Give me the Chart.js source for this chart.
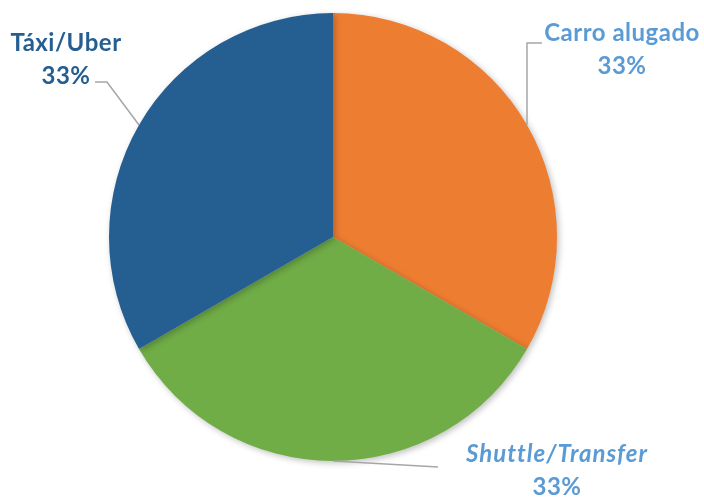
<!DOCTYPE html>
<html>
<head>
<meta charset="utf-8">
<script src="https://cdn.jsdelivr.net/npm/chart.js@4.4.1/dist/chart.umd.min.js"></script>
<style>
  html, body { margin: 0; padding: 0; background: #fff; }
  #wrap { width: 704px; height: 497px; }
</style>
</head>
<body>
<div id="wrap"><canvas id="pie"></canvas></div>
<script>
const categories = ['Carro alugado', 'Shuttle/Transfer', 'Táxi/Uber'];
const values = [1, 1, 1];
const sliceColors = ['#ED7D31', '#70AD47', '#255E91'];

// label placement (text center x, first baseline y) and leader elbow
const labelSpots = [
    { x: 622, y: 41, color: '#5B9BD5', italic: false, elbow: [[527, 43], [542, 43]] },
    { x: 557, y: 462, color: '#5B9BD5', italic: true, elbow: [[438, 467]] },
    { x: 66, y: 51, color: '#255E91', italic: false, elbow: [[107, 82], [95, 82]] }
];

const total = values.reduce((a, b) => a + b, 0);

const shadowPlugin = {
    id: 'pieShadow',
    beforeDatasetsDraw(chart) {
        const ctx = chart.ctx;
        ctx.save();
        ctx.shadowColor = 'rgba(0,0,0,0.25)';
        ctx.shadowBlur = 6;
        ctx.shadowOffsetX = 2;
        ctx.shadowOffsetY = 2;
    },
    afterDatasetsDraw(chart) {
        chart.ctx.restore();
    }
};

const labelPlugin = {
    id: 'leaderLabels',
    afterDatasetsDraw(chart) {
        const ctx = chart.ctx;
        const meta = chart.getDatasetMeta(0);
        meta.data.forEach((arc, i) => {
            const spot = labelSpots[i];
            const mid = (arc.startAngle + arc.endAngle) / 2;
            const ax = arc.x + Math.cos(mid) * arc.outerRadius;
            const ay = arc.y + Math.sin(mid) * arc.outerRadius;
            ctx.save();
            ctx.strokeStyle = '#A6A6A6';
            ctx.lineWidth = 1.5;
            ctx.beginPath();
            ctx.moveTo(ax, ay);
            spot.elbow.forEach(p => ctx.lineTo(p[0], p[1]));
            ctx.stroke();

            const pct = Math.round(values[i] / total * 100) + '%';
            ctx.fillStyle = spot.color;
            ctx.textAlign = 'center';
            ctx.textBaseline = 'alphabetic';
            ctx.font = (spot.italic ? 'italic ' : '') + 'bold 24px Lato, "Open Sans", sans-serif';
            ctx.letterSpacing = spot.italic ? '1px' : '0.5px';
            ctx.fillText(categories[i], spot.x, spot.y);
            ctx.font = 'bold 24px Lato, "Open Sans", sans-serif';
            ctx.letterSpacing = '0.5px';
            ctx.fillText(pct, spot.x, spot.y + 33);
            ctx.restore();
        });
    }
};

new Chart(document.getElementById('pie'), {
    type: 'pie',
    data: {
        labels: categories,
        datasets: [{
            data: values,
            backgroundColor: sliceColors,
            borderWidth: 0
        }]
    },
    options: {
        responsive: true,
        maintainAspectRatio: false,
        animation: false,
        layout: { padding: { left: 109, right: 147, top: 13, bottom: 36 } },
        plugins: {
            legend: { display: false },
            tooltip: { enabled: false }
        }
    },
    plugins: [shadowPlugin, labelPlugin]
});
</script>
</body>
</html>
